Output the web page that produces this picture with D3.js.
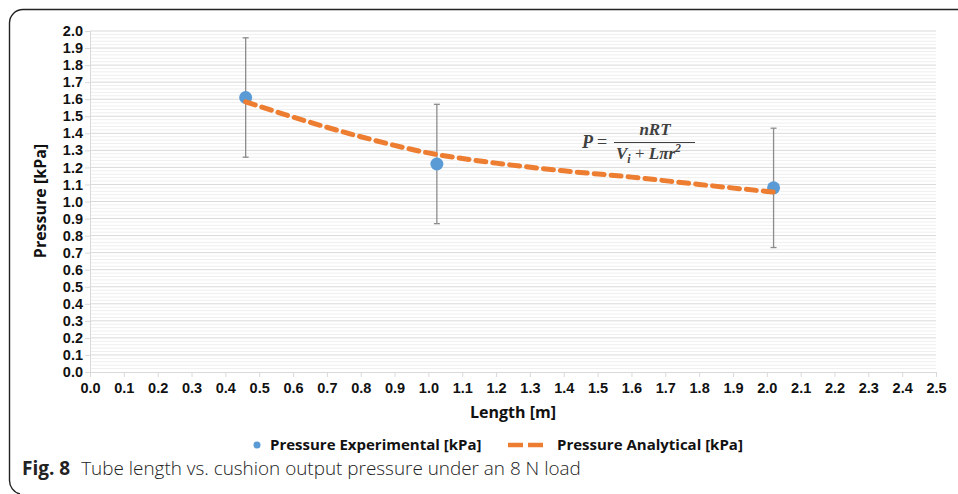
<!DOCTYPE html>
<html><head><meta charset="utf-8">
<script src="https://cdn.jsdelivr.net/npm/d3@7"></script>
<style>body{margin:0;background:#fff}svg{display:block}</style>
</head><body><svg id="c" width="958" height="494"></svg>
<script>
// Experimental data
const expLength = [0.46, 1.025, 2.02];
const expPressure = [1.61, 1.22, 1.08];
const expError = [0.35, 0.35, 0.35];
// Analytical curve
const anaLength = [0.46, 0.6, 0.8, 1.0, 1.2, 1.4, 1.6, 1.8, 2.02];
const anaPressure = [1.585, 1.495, 1.38, 1.285, 1.225, 1.18, 1.143, 1.10, 1.055];
const xTicks = d3.range(0, 26).map(i => i / 10);
const yTicks = d3.range(0, 21).map(i => i / 10);

const svg = d3.select("#c");
const x = d3.scaleLinear().domain([0, 2.5]).range([90, 936]);
const y = d3.scaleLinear().domain([0, 2.0]).range([372, 31]);

// frame
svg.append("path")
  .attr("d", "M958,9.5 H23 A13.5,13.5 0 0 0 9.5,23 V480 A14,14 0 0 0 20,494")
  .attr("fill", "none").attr("stroke", "#222").attr("stroke-width", 1.4);

// minor gridlines
const minor = d3.range(0, 101).map(i => i / 50).filter((v, i) => i % 5 !== 0);
svg.append("g").selectAll("line").data(minor).join("line")
  .attr("x1", x(0)).attr("x2", x(2.5)).attr("y1", d => y(d)).attr("y2", d => y(d))
  .attr("stroke", "#efefef").attr("stroke-width", 1);
// major gridlines
svg.append("g").selectAll("line").data(yTicks.slice(1)).join("line")
  .attr("x1", x(0)).attr("x2", x(2.5)).attr("y1", d => y(d)).attr("y2", d => y(d))
  .attr("stroke", "#d9d9d9").attr("stroke-width", 1);

const tickFont = "'Liberation Sans', Arial, sans-serif";
const labelFont = "'Open Sans', sans-serif";
// y axis
const yAxis = svg.append("g").attr("transform", `translate(${x(0)},0)`)
  .call(d3.axisLeft(y).tickValues(yTicks).tickFormat(d3.format(".1f")).tickSize(5).tickPadding(2));
// x axis
const xAxis = svg.append("g").attr("transform", `translate(0,${y(0)})`)
  .call(d3.axisBottom(x).tickValues(xTicks).tickFormat(d3.format(".1f")).tickSize(5).tickPadding(6));
[yAxis, xAxis].forEach(a => {
  a.select(".domain").attr("stroke", "#d9d9d9");
  a.selectAll(".tick line").attr("stroke", "#d9d9d9");
  a.selectAll("text").attr("font-family", tickFont).attr("font-weight", 700)
    .attr("font-size", 14.5).attr("fill", "#111");
});

// axis titles
svg.append("text").attr("x", 513).attr("y", 418).attr("text-anchor", "middle")
  .attr("font-family", labelFont).attr("font-weight", 700).attr("font-size", 16).attr("fill", "#111")
  .text("Length [m]");
svg.append("text").attr("transform", "translate(46,201) rotate(-90)").attr("text-anchor", "middle")
  .attr("font-family", labelFont).attr("font-weight", 700).attr("font-size", 16).attr("fill", "#111")
  .text("Pressure [kPa]");

// error bars
const eb = svg.append("g").attr("stroke", "#8c8c8c").attr("stroke-width", 1.3);
expLength.forEach((L, i) => {
  const top = y(expPressure[i] + expError[i]), bot = y(expPressure[i] - expError[i]), cx = x(L);
  eb.append("line").attr("x1", cx).attr("x2", cx).attr("y1", top).attr("y2", bot);
  eb.append("line").attr("x1", cx - 3).attr("x2", cx + 3).attr("y1", top).attr("y2", top);
  eb.append("line").attr("x1", cx - 3).attr("x2", cx + 3).attr("y1", bot).attr("y2", bot);
});

// points
svg.append("g").selectAll("circle").data(expLength).join("circle")
  .attr("cx", d => x(d)).attr("cy", (d, i) => y(expPressure[i])).attr("r", 6.5)
  .attr("fill", "#5B9BD5");

// analytical line
const line = d3.line().x(d => x(d[0])).y(d => y(d[1])).curve(d3.curveMonotoneX);
svg.append("path").datum(anaLength.map((L, i) => [L, anaPressure[i]]))
  .attr("d", line).attr("fill", "none").attr("stroke", "#ED7D31")
  .attr("stroke-width", 5).attr("stroke-dasharray", "10,7").attr("stroke-linecap", "round");

// equation
const eq = svg.append("g").attr("fill", "#404040").attr("font-family", "'Liberation Serif', serif")
  .attr("font-style", "italic").attr("font-weight", 700);
eq.append("text").attr("x", 582).attr("y", 148).attr("font-size", 18).text("P");
eq.append("text").attr("x", 597).attr("y", 148).attr("font-size", 18).attr("font-style", "normal").attr("font-weight", 400).text("=");
eq.append("text").attr("x", 655).attr("y", 135).attr("font-size", 17).attr("text-anchor", "middle").text("nRT");
eq.append("line").attr("x1", 614).attr("x2", 695).attr("y1", 142.5).attr("y2", 142.5).attr("stroke", "#404040").attr("stroke-width", 1);
const den = eq.append("text").attr("x", 616).attr("y", 159).attr("font-size", 17);
den.append("tspan").text("V");
den.append("tspan").attr("font-size", 12).attr("dy", 4).text("i");
den.append("tspan").attr("dy", -4).attr("font-style", "normal").attr("font-weight", 400).text(" + ");
den.append("tspan").text("Lπr");
den.append("tspan").attr("font-size", 12).attr("dy", -7).text("2");

// legend
const lg = svg.append("g").attr("font-family", labelFont).attr("font-weight", 700).attr("font-size", 15).attr("fill", "#111");
lg.append("circle").attr("cx", 257).attr("cy", 445).attr("r", 3.5).attr("fill", "#5B9BD5");
lg.append("text").attr("x", 270).attr("y", 450).text("Pressure Experimental [kPa]");
lg.append("line").attr("x1", 508).attr("x2", 545).attr("y1", 445).attr("y2", 445)
  .attr("stroke", "#ED7D31").attr("stroke-width", 4.5).attr("stroke-dasharray", "15,5");
lg.append("text").attr("x", 557).attr("y", 450).text("Pressure Analytical [kPa]");

// caption
const cap = svg.append("text").attr("x", 22).attr("y", 475).attr("font-family", "'Open Sans', sans-serif")
  .attr("font-size", 18.9).attr("fill", "#222");
cap.append("tspan").attr("font-weight", 700).attr("font-size", 19).text("Fig. 8");
cap.append("tspan").attr("font-weight", 300).attr("dx", 11).text("Tube length vs. cushion output pressure under an 8 N load");
</script></body></html>
